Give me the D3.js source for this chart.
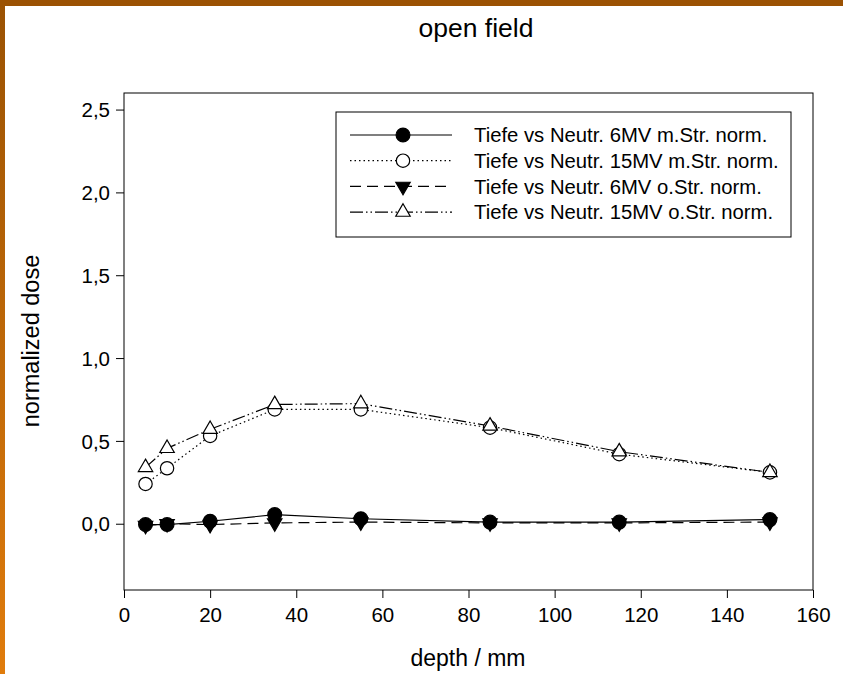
<!DOCTYPE html>
<html>
<head>
<meta charset="utf-8">
<script src="https://cdn.jsdelivr.net/npm/d3@7"></script>
<style>
  body { margin: 0; background: #fff; }
  text { font-family: "Liberation Sans", Arial, sans-serif; fill: #000; }
</style>
</head>
<body>
<svg id="chart" width="843" height="674"></svg>
<script>
const depth = [5, 10, 20, 35, 55, 85, 115, 150];
const mv6With = [-0.005, -0.005, 0.015, 0.055, 0.03, 0.01, 0.01, 0.025];
const mv15With = [0.24, 0.335, 0.53, 0.69, 0.69, 0.58, 0.42, 0.31];
const mv6Without = [-0.01, 0.0, -0.005, 0.005, 0.01, 0.005, 0.005, 0.01];
const mv15Without = [0.34, 0.455, 0.57, 0.72, 0.725, 0.59, 0.435, 0.31];
const seriesNames = [
    "Tiefe vs Neutr. 6MV m.Str. norm.",
    "Tiefe vs Neutr. 15MV m.Str. norm.",
    "Tiefe vs Neutr. 6MV o.Str. norm.",
    "Tiefe vs Neutr. 15MV o.Str. norm."
];
const xTicks = [0, 20, 40, 60, 80, 100, 120, 140, 160];
const yTicks = [0, 0.5, 1.0, 1.5, 2.0, 2.5];

const svg = d3.select("#chart"),
    W = 843, H = 674,
    pLeft = 124, pRight = 813, pTop = 93, pBottom = 590;

// frame colour bars (top and left)
const grad = svg.append("defs").append("linearGradient")
    .attr("id", "edge").attr("x1", 0).attr("y1", 0).attr("x2", 0).attr("y2", 1);
grad.append("stop").attr("offset", "0%").attr("stop-color", "#9a5203");
grad.append("stop").attr("offset", "100%").attr("stop-color", "#e07c0c");
svg.append("rect").attr("x", 0).attr("y", 0).attr("width", 5).attr("height", H).attr("fill", "url(#edge)");
svg.append("rect").attr("x", 0).attr("y", 0).attr("width", W).attr("height", 6).attr("fill", "#9b5203");

const x = d3.scaleLinear().domain([0, 160]).range([pLeft, pRight]);
const y = d3.scaleLinear().domain([-0.4, 2.6]).range([pBottom, pTop]);

// plot frame
svg.append("rect")
    .attr("x", pLeft).attr("y", pTop)
    .attr("width", pRight - pLeft).attr("height", pBottom - pTop)
    .attr("fill", "none").attr("stroke", "#000").attr("stroke-width", 1);

const fmt = d => d3.format(".1f")(d).replace(".", ",");

const xAxis = svg.append("g")
    .attr("transform", `translate(0,${pBottom})`)
    .call(d3.axisBottom(x).tickValues(xTicks).tickSize(8).tickPadding(9).tickFormat(d3.format("d")));
const yAxis = svg.append("g")
    .attr("transform", `translate(${pLeft},0)`)
    .call(d3.axisLeft(y).tickValues(yTicks).tickSize(8).tickPadding(6).tickFormat(fmt));
[xAxis, yAxis].forEach(a => {
    a.select(".domain").remove();
    a.selectAll("text").attr("font-size", 20.5).style("font-family", "Liberation Sans, Arial, sans-serif");
    a.selectAll("line").attr("stroke", "#000");
});
yAxis.selectAll("text").attr("dy", "0.35em");

svg.append("text").attr("x", 476).attr("y", 37)
    .attr("text-anchor", "middle").attr("font-size", 26.5).text("open field");
svg.append("text").attr("x", 468).attr("y", 666)
    .attr("text-anchor", "middle").attr("font-size", 23).text("depth / mm");
svg.append("text").attr("transform", "translate(39,341) rotate(-90)")
    .attr("text-anchor", "middle").attr("font-size", 23.5).text("normalized dose");

const styles = [
    { vals: mv6With, dash: null, sym: d3.symbolCircle, fill: "#000", size: 150 },
    { vals: mv15With, dash: "1.5,3", sym: d3.symbolCircle, fill: "#fff", size: 140 },
    { vals: mv6Without, dash: "11,6", sym: d3.symbolTriangle, fill: "#000", size: 90, flip: true },
    { vals: mv15Without, dash: "13,3,1.5,3,1.5,3", sym: d3.symbolTriangle, fill: "#fff", size: 90 }
];

const line = d3.line().x(d => x(d[0])).y(d => y(d[1]));

styles.forEach(s => {
    const pts = depth.map((d, i) => [d, s.vals[i]]);
    svg.append("path").datum(pts)
        .attr("d", line).attr("fill", "none")
        .attr("stroke", "#000").attr("stroke-width", 1.2)
        .attr("stroke-dasharray", s.dash);
});
styles.forEach(s => {
    const pts = depth.map((d, i) => [d, s.vals[i]]);
    svg.append("g").selectAll("path").data(pts).join("path")
        .attr("d", d3.symbol().type(s.sym).size(s.size))
        .attr("transform", d => `translate(${x(d[0])},${y(d[1])})${s.flip ? " rotate(180)" : ""}`)
        .attr("fill", s.fill).attr("stroke", "#000").attr("stroke-width", 1.2);
});

// legend
const lg = svg.append("g");
lg.append("rect").attr("x", 336).attr("y", 112).attr("width", 455).attr("height", 125)
    .attr("fill", "#fff").attr("stroke", "#000").attr("stroke-width", 1);
styles.forEach((s, i) => {
    const ly = 135 + i * 25.7;
    lg.append("line").attr("x1", 350).attr("x2", 452).attr("y1", ly).attr("y2", ly)
        .attr("stroke", "#000").attr("stroke-width", 1.2).attr("stroke-dasharray", s.dash);
    lg.append("path")
        .attr("d", d3.symbol().type(s.sym).size(s.size))
        .attr("transform", `translate(403,${ly})${s.flip ? " rotate(180)" : ""}`)
        .attr("fill", s.fill).attr("stroke", "#000").attr("stroke-width", 1.2);
    lg.append("text").attr("x", 474).attr("y", ly).attr("dy", "0.36em")
        .attr("font-size", 20.3).text(seriesNames[i]);
});
</script>
</body>
</html>
